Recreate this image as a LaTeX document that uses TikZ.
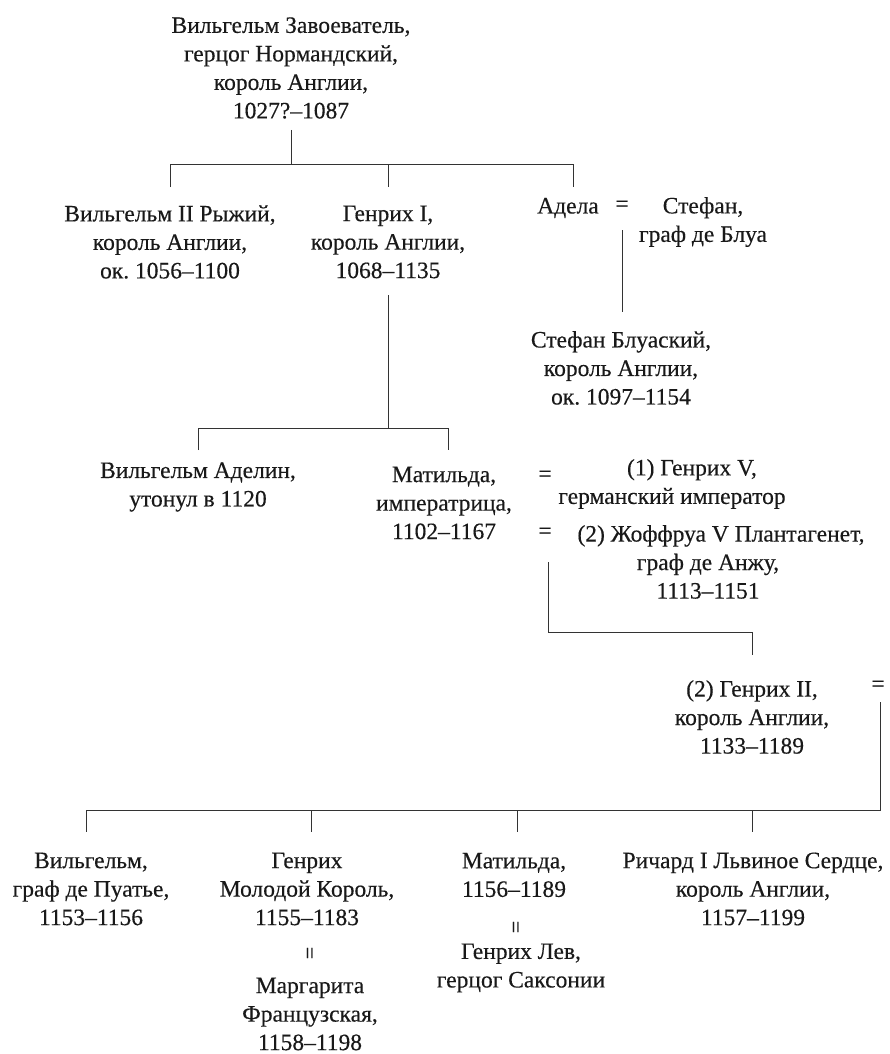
\documentclass[tikz,border=0pt]{standalone}
\usepackage{fontspec}
\setmainfont[FakeBold=0.35]{Liberation Serif}
\frenchspacing
\begin{document}
\begin{tikzpicture}[x=1pt,y=-1pt,
  person/.style={align=center, inner sep=0pt, text=black!90,
    font=\fontsize{23.5}{28.5}\selectfont},
  marr/.style={inner sep=0pt, text=black!90, font=\fontsize{23.5}{28.5}\selectfont},
  vmarr/.style={inner sep=0pt, rotate=90, text=black!90, font=\fontsize{22}{24}\selectfont},
  tree/.style={draw=black!80, line width=0.9pt}]
\useasboundingbox (0,0) rectangle (889,1054);

% generation 1
\node[person] (wc) at (291,68) {Вильгельм Завоеватель,\\герцог Нормандский,\\король Англии,\\1027?–1087};

% generation 2
\node[person] (w2) at (170,242) {Вильгельм II Рыжий,\\король Англии,\\ок. 1056–1100};
\node[person] (h1) at (388,242) {Генрих I,\\король Англии,\\1068–1135};
\node[person] (adela) at (568,208) {Адела};
\node[marr] (eq1) at (622,206) {=};
\node[person] (stefan) at (703,222) {Стефан,\\граф де Блуа};
\node[person] (sb) at (621,368) {Стефан Блуаский,\\король Англии,\\ок. 1097–1154};

% generation 3
\node[person] (wa) at (198,487) {Вильгельм Аделин,\\утонул в 1120};
\node[person] (mat) at (444,503) {Матильда,\\императрица,\\1102–1167};
\node[marr] (eq2) at (545,476) {=};
\node[person] (h5) at (672,484) {\hspace*{40pt}(1) Генрих V,\\германский император};
\node[marr] (eq3) at (545,533) {=};
\node[person] (gf) at (708,562) {\hspace*{26pt}(2) Жоффруа V Плантагенет,\\граф де Анжу,\\1113–1151};

% generation 4
\node[person] (h2) at (752,717) {(2) Генрих II,\\король Англии,\\1133–1189};
\node[marr] (eq4) at (878,686) {=};

% generation 5
\node[person] (wp) at (91,889) {Вильгельм,\\граф де Пуатье,\\1153–1156};
\node[person] (hy) at (307,889) {Генрих\\Молодой Король,\\1155–1183};
\node[vmarr] (m1) at (312,953) {=};
\node[person] (marg) at (310,1014) {Маргарита\\Французская,\\1158–1198};
\node[person] (mt) at (514,875) {Матильда,\\1156–1189};
\node[vmarr] (m2) at (518,927) {=};
\node[person] (hl) at (521,968) {Генрих Лев,\\герцог Саксонии};
\node[person] (rl) at (753,889) {Ричард I Львиное Сердце,\\король Англии,\\1157–1199};

% junction coordinates
\coordinate (j1) at (291,164);
\coordinate (j1w) at (170,164);
\coordinate (j1h) at (388,164);
\coordinate (j1a) at (573,164);
\coordinate (j2) at (388,428);
\coordinate (j2w) at (198,428);
\coordinate (j2m) at (448,428);
\coordinate (j3a) at (548,632);
\coordinate (j3b) at (752,632);
\coordinate (j4) at (880,810);
\coordinate (j4w) at (86,810);
\coordinate (j4h) at (311,810);
\coordinate (j4m) at (517,810);
\coordinate (j4r) at (752,810);

% connectors
\draw[tree] (wc.south |- 0,130) -- (j1);
\draw[tree] (j1w |- 0,187) -- (j1w) -- (j1a) -- (j1a |- 0,187);
\draw[tree] (j1h) -- (j1h |- 0,187);
\draw[tree] (eq1.south |- 0,230) -- (eq1.south |- 0,312);
\draw[tree] (h1.south |- 0,295) -- (j2);
\draw[tree] (j2w |- 0,450) -- (j2w) -- (j2m) -- (j2m |- 0,450);
\draw[tree] (j3a |- 0,562) -- (j3a) -- (j3b) -- (j3b |- 0,655);
\draw[tree] (j4 |- 0,702) -- (j4) -- (j4w) -- (j4w |- 0,832);
\draw[tree] (j4h) -- (j4h |- 0,832);
\draw[tree] (j4m) -- (j4m |- 0,832);
\draw[tree] (j4r) -- (j4r |- 0,832);
\end{tikzpicture}
\end{document}
